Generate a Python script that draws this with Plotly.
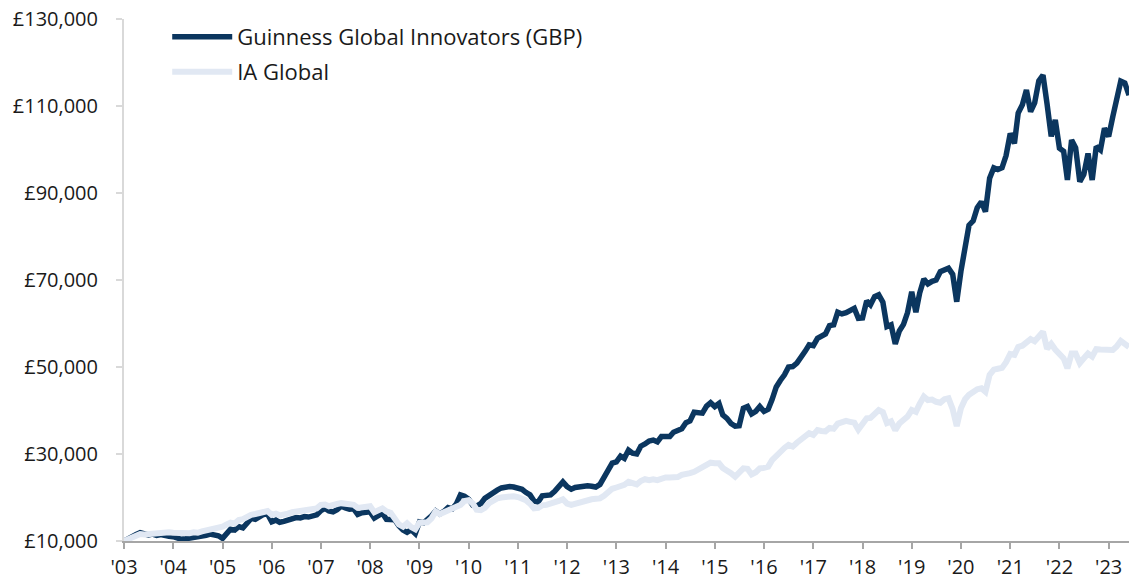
import pandas as pd
import plotly.graph_objects as go

# Monthly values (£ thousands)
guinness_k = [
    # 2003
    10.0, 10.6, 11.0, 11.5, 11.9, 11.6, 11.4, 11.6, 11.3, 11.5, 11.2, 11.1,
    # 2004
    11.0, 10.7, 10.4, 10.5, 10.6, 10.9, 10.8, 11.1, 11.3, 11.6, 11.5, 11.2,
    # 2005
    10.6, 11.8, 12.7, 12.5, 13.3, 13.0, 14.0, 15.2, 15.0, 15.6, 16.1, 16.2,
    # 2006
    14.4, 14.8, 14.3, 14.5, 14.9, 15.2, 15.4, 15.3, 15.6, 15.5, 15.8, 16.0,
    # 2007
    17.0, 17.5, 16.9, 16.7, 17.2, 18.0, 17.6, 17.3, 17.4, 16.1, 16.5, 16.7,
    # 2008
    16.7, 15.3, 16.0, 16.4, 15.0, 14.8, 14.9, 13.5, 12.5, 12.0, 12.6, 11.7,
    # 2009
    14.4, 14.2, 14.8, 15.8, 16.9, 16.2, 16.8, 17.7, 17.4, 18.5, 20.6, 20.3,
    # 2010
    19.6, 18.2, 18.0, 18.6, 19.8, 20.5, 21.2, 21.7, 22.2, 22.5, 22.5, 22.4,
    # 2011
    22.2, 21.9, 21.2, 20.6, 19.2, 19.0, 20.4, 20.6, 20.6, 21.4, 22.3, 23.6,
    # 2012
    22.5, 21.9, 22.3, 22.5, 22.6, 22.7, 22.6, 22.4, 23.0, 24.4, 26.3, 27.9, 28.2,
    # 2013
    29.5, 29.0, 30.9, 30.2, 30.0, 31.8, 32.3, 33.0, 33.2, 32.8, 34.0, 34.1,
    # 2014
    34.0, 35.0, 35.3, 35.8, 37.2, 37.6, 39.6, 39.5, 39.4, 41.0, 41.8, 40.9,
    # 2015
    41.6, 39.0, 38.2, 37.0, 36.4, 36.5, 40.5, 40.9, 39.2, 39.8, 40.9, 39.8,
    # 2016
    40.3, 42.5, 45.4, 46.9, 48.2, 50.0, 50.1, 50.9, 52.0, 53.6, 55.1, 54.9,
    # 2017
    56.6, 57.0, 57.6, 59.5, 59.7, 62.6, 62.2, 62.5, 62.9, 63.5, 61.2, 61.3,
    # 2018
    65.2, 64.3, 66.2, 66.6, 64.9, 59.3, 59.7, 55.3, 58.3, 59.8, 62.5, 67.3,
    # 2019
    62.6, 67.0, 70.2, 69.1, 69.7, 70.0, 71.9, 72.4, 72.7, 71.3, 65.0, 72.0,
    # 2020
    78.5, 82.6, 83.6, 86.6, 88.0, 85.7, 93.4, 95.8, 95.4, 95.8, 98.6, 103.7,
    # 2021
    101.4, 108.4, 110.3, 113.7, 108.7, 110.7, 115.8, 117.1, 110.5, 103.0, 106.8, 100.3,
    # 2022
    99.6, 93.0, 102.2, 100.4, 92.6, 94.3, 99.1, 93.0, 100.7, 99.9, 104.9, 103.0,
    # 2023
    107.6, 112.0, 115.7, 115.3, 112.5,
]

ia_global_k = [
    # 2003
    10.0, 10.5, 10.9, 11.3, 11.6, 11.5, 11.6, 11.8, 11.7, 11.9, 11.9, 12.0,
    # 2004
    11.9, 11.9, 11.7, 11.6, 11.8, 12.0, 11.9, 12.2, 12.4, 12.6, 12.8, 13.0,
    # 2005
    13.3, 13.8, 14.2, 14.0, 14.8, 15.0, 15.6, 16.0, 16.2, 16.5, 16.7, 16.9,
    # 2006
    16.0, 16.3, 15.9, 16.0, 16.3, 16.6, 16.7, 16.8, 17.0, 17.1, 17.2, 17.5,
    # 2007
    18.3, 18.4, 18.0, 18.1, 18.5, 18.7, 18.6, 18.2, 18.3, 17.6, 17.8, 18.0,
    # 2008
    18.0, 16.6, 17.0, 17.5, 16.8, 16.5, 15.2, 13.8, 13.3, 14.1, 13.2, 12.7,
    # 2009
    14.2, 14.4, 14.3, 15.2, 16.8, 16.2, 16.6, 17.1, 17.3, 17.8, 18.3, 19.2,
    # 2010
    19.4, 18.6, 17.2, 17.1, 17.6, 18.7, 19.4, 19.8, 20.0, 20.2, 20.2, 20.3,
    # 2011
    20.1, 19.8, 19.4, 18.6, 17.5, 17.6, 18.2, 18.3, 18.5, 18.7, 19.2, 19.6,
    # 2012
    18.6, 18.3, 18.6, 19.0, 19.2, 19.4, 19.6, 19.7, 19.8, 20.4, 21.2, 22.0, 22.3,
    # 2013
    22.6, 22.9, 23.6, 23.3, 23.0, 23.8, 24.2, 24.0, 24.2, 24.0, 24.4, 24.6,
    # 2014
    24.6, 24.5, 24.7, 25.2, 25.3, 25.6, 25.9, 26.4, 27.0, 27.5, 28.0, 27.9,
    # 2015
    27.9, 26.8, 26.3, 25.6, 24.8, 25.6, 26.7, 26.6, 25.3, 25.8, 26.7, 26.8,
    # 2016
    27.1, 28.6, 29.6, 30.8, 31.4, 32.1, 31.7, 32.6, 33.3, 34.0, 34.8, 34.4,
    # 2017
    35.5, 35.3, 35.2, 36.0, 35.8, 37.0, 37.2, 37.6, 37.4, 37.2, 35.6, 36.8,
    # 2018
    38.2, 38.3, 39.2, 40.1, 39.6, 37.1, 37.5, 35.5, 37.0, 38.0, 38.6, 40.1,
    # 2019
    39.7, 41.5, 43.2, 42.4, 42.5, 42.0, 41.8, 42.6, 42.8, 40.3, 36.4, 40.5,
    # 2020
    42.6, 43.6, 44.5, 44.9, 45.1, 44.3, 48.2, 49.4, 49.6, 49.8, 51.1, 53.0,
    # 2021
    52.8, 54.6, 54.9, 55.6, 56.4, 55.9, 57.3, 58.1, 54.2, 55.3, 54.0, 53.2,
    # 2022
    52.0, 49.7, 53.1, 53.1, 50.9, 52.0, 53.1, 52.4, 54.1, 54.0, 54.0, 53.9,
    # 2023
    53.9, 54.7, 56.0, 55.3, 54.6,
]

dates = pd.date_range("2003-01-01", periods=len(guinness_k), freq="MS")
guinness = [v * 1000 for v in guinness_k]
ia_global = [v * 1000 for v in ia_global_k]

year_ticks = [f"{y}-01-01" for y in range(2003, 2024)]
year_labels = [f"'{y % 100:02d}" for y in range(2003, 2024)]
y_ticks = [10000, 30000, 50000, 70000, 90000, 110000, 130000]
y_labels = [f"£{v:,}" for v in y_ticks]

series_names = ["Guinness Global Innovators (GBP)", "IA Global"]
colors = ["#0b365f", "#e1e8f3"]

FONT = "Open Sans"

fig = go.Figure()
fig.add_trace(go.Scatter(
    x=dates, y=guinness, mode="lines", name=series_names[0],
    line=dict(color=colors[0], width=5.5), legend="legend", showlegend=True,
))
fig.add_trace(go.Scatter(
    x=dates, y=ia_global, mode="lines", name=series_names[1],
    line=dict(color=colors[1], width=6), legend="legend2", showlegend=True,
))

legend_common = dict(xanchor="left", yanchor="middle", bgcolor="rgba(0,0,0,0)",
                     font=dict(size=22, color="#1a1a1a"), itemwidth=60,
                     borderwidth=0)

fig.update_layout(
    width=1139, height=580,
    showlegend=True,
    margin=dict(l=123.5, r=9.7, t=19, b=39),
    paper_bgcolor="white", plot_bgcolor="white",
    font=dict(family=FONT, size=20, color="#1a1a1a"),
    legend=dict(x=0.043, y=0.9655, **legend_common),
    legend2=dict(x=0.043, y=0.8985, **legend_common),
    xaxis=dict(
        type="date", range=[dates[0], dates[-1]],
        tickmode="array", tickvals=year_ticks, ticktext=year_labels,
        showgrid=False, zeroline=False, automargin=False,
        showline=True, linecolor="#a6a6a6", linewidth=2,
        ticks="outside", ticklen=6, tickwidth=2, tickcolor="#a6a6a6",
        ticklabelstandoff=1,
        tickfont=dict(size=20),
    ),
    yaxis=dict(
        range=[10000, 130000],
        tickmode="array", tickvals=y_ticks, ticktext=y_labels,
        showgrid=False, zeroline=False, automargin=False,
        showline=True, linecolor="#d9d9d9", linewidth=2,
        ticks="outside", ticklen=6, tickwidth=2, tickcolor="#d9d9d9",
        ticklabelstandoff=14,
        tickfont=dict(size=20),
    ),
)

fig.write_html("out.html", config={"displayModeBar": False},
               post_script="document.body.style.margin='0';")
